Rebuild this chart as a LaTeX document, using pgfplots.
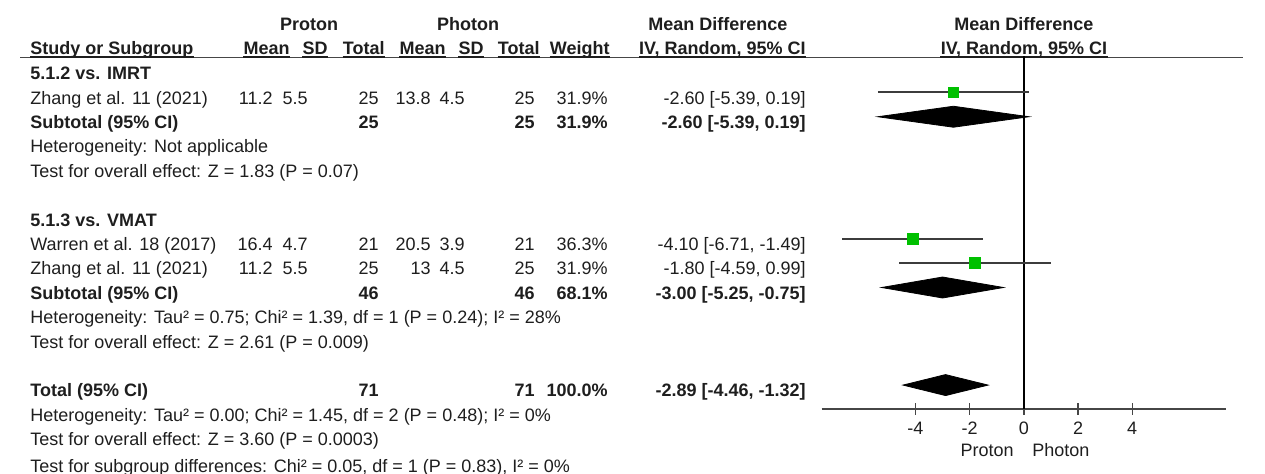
\documentclass[border=0pt]{standalone}
\usepackage{fontspec}
\setmainfont{Liberation Sans}
\usepackage{pgfplots}
\pgfplotsset{compat=1.18}

\definecolor{txt}{RGB}{30,30,30}
\definecolor{rule}{RGB}{70,70,70}
\definecolor{cigray}{RGB}{60,60,60}
\definecolor{sqgreen}{RGB}{0,192,0}

% one study row of the table: baseline, proton mean/SD/N, photon mean/SD/N, weight, MD [CI]
\newcommand\drow[9]{%
  \node[R] at (273,#1) {#2};
  \node[R] at (308,#1) {#3};
  \node[R] at (379,#1) {#4};
  \node[R] at (431,#1) {#5};
  \node[R] at (465,#1) {#6};
  \node[R] at (535,#1) {#7};
  \node[R] at (608,#1) {#8};
  \node[R] at (806,#1) {#9};
}
% underlined column heading
\newcommand\hdr[3]{%
  \node[#1,B] (h) at (#2,54.5) {#3};
  \draw[txt, line width=0.7pt] ([yshift=-1.2pt]h.base west) -- ([yshift=-1.2pt]h.base east);
}

\begin{document}
\begin{tikzpicture}[font=\fontsize{9}{11}\selectfont, text=txt,
  L/.style={anchor=base west, inner sep=0pt},
  R/.style={anchor=base east, inner sep=0pt},
  C/.style={anchor=base, inner sep=0pt},
  B/.style={font=\fontsize{9}{11}\selectfont\bfseries}]

\begin{scope}[x=0.5pt, y=-0.5pt]
\path[use as bounding box] (0,0) rectangle (1265,474);

% group headings
\node[C,B] at (309,31) {Proton};
\node[C,B] at (468,31) {Photon};
\node[C,B] at (718,31) {Mean Difference};
\node[C,B] at (1024,31) {Mean Difference};

% column headings
\draw[rule, line width=0.6pt] (20,57.5) -- (1243,57.5);
\hdr{L}{30}{Study or Subgroup}
\hdr{R}{290}{Mean}
\hdr{R}{328}{SD}
\hdr{R}{385}{Total}
\hdr{R}{446}{Mean}
\hdr{R}{484}{SD}
\hdr{R}{540}{Total}
\hdr{R}{610}{Weight}
\hdr{R}{806}{IV, Random, 95\% CI}
\hdr{C}{1024}{IV, Random, 95\% CI}

% subgroup 5.1.2
\node[L,B] at (30,79.8) {5.1.2 vs. IMRT};
\node[L] at (30,104.2) {Zhang et al. 11 (2021)};
\drow{104.2}{11.2}{5.5}{25}{13.8}{4.5}{25}{31.9\%}{-2.60 [-5.39, 0.19]}
\begin{scope}[B]
\node[L] at (30,128.6) {Subtotal (95\% CI)};
\node[R] at (379,128.6) {25};
\node[R] at (535,128.6) {25};
\node[R] at (608,128.6) {31.9\%};
\node[R] at (806,128.6) {-2.60 [-5.39, 0.19]};
\end{scope}
\node[L] at (30,153) {Heterogeneity: Not applicable};
\node[L] at (30,177.4) {Test for overall effect: Z = 1.83 (P = 0.07)};

% subgroup 5.1.3
\node[L,B] at (30,226.2) {5.1.3 vs. VMAT};
\node[L] at (30,250.6) {Warren et al. 18 (2017)};
\drow{250.6}{16.4}{4.7}{21}{20.5}{3.9}{21}{36.3\%}{-4.10 [-6.71, -1.49]}
\node[L] at (30,275) {Zhang et al. 11 (2021)};
\drow{275}{11.2}{5.5}{25}{13}{4.5}{25}{31.9\%}{-1.80 [-4.59, 0.99]}
\begin{scope}[B]
\node[L] at (30,299.4) {Subtotal (95\% CI)};
\node[R] at (379,299.4) {46};
\node[R] at (535,299.4) {46};
\node[R] at (608,299.4) {68.1\%};
\node[R] at (806,299.4) {-3.00 [-5.25, -0.75]};
\end{scope}
\node[L] at (30,323.8) {Heterogeneity: Tau² = 0.75; Chi² = 1.39, df = 1 (P = 0.24); I² = 28\%};
\node[L] at (30,348.2) {Test for overall effect: Z = 2.61 (P = 0.009)};

% overall
\begin{scope}[B]
\node[L] at (30,397) {Total (95\% CI)};
\node[R] at (379,397) {71};
\node[R] at (535,397) {71};
\node[R] at (608,397) {100.0\%};
\node[R] at (806,397) {-2.89 [-4.46, -1.32]};
\end{scope}
\node[L] at (30,421.4) {Heterogeneity: Tau² = 0.00; Chi² = 1.45, df = 2 (P = 0.48); I² = 0\%};
\node[L] at (30,445.8) {Test for overall effect: Z = 3.60 (P = 0.0003)};
\node[L] at (30,472.5) {Test for subgroup differences: Chi² = 0.05, df = 1 (P = 0.83), I² = 0\%};

% favours labels under the scale
\node[R] at (1014,456.4) {Proton};
\node[L] at (1032,456.4) {Photon};
\end{scope}

% forest plot: y is the table row counted from the Total row (=1)
\begin{axis}[
  at={(410.85pt,-204.5pt)}, anchor=south west,
  scale only axis, width=202.15pt, height=176.5pt,
  xmin=-7.46, xmax=7.46, ymin=0.02, ymax=14.49,
  axis x line*=bottom, axis y line=none,
  x axis line style={draw=rule, line width=0.7pt},
  xtick={-4,-2,0,2,4},
  tick align=center, major tick length=6pt,
  tick style={draw=rule, line width=0.7pt},
  xticklabel style={font=\fontsize{9}{11}\selectfont, text=txt},
  /pgf/number format/assume math mode=true,
  clip=false,
]
\draw[black, line width=0.9pt] (axis cs:0,0.02) -- (axis cs:0,14.49);

% confidence intervals
\addplot[cigray, line width=0.9pt] coordinates {(-5.39,13) (0.19,13)};
\addplot[cigray, line width=0.9pt] coordinates {(-6.71,7) (-1.49,7)};
\addplot[cigray, line width=0.9pt] coordinates {(-4.59,6) (0.99,6)};

% study estimates, square size by weight
\addplot[only marks, mark=square*, mark size=2.68pt, mark options={fill=sqgreen, draw=sqgreen}] coordinates {(-2.60,13)};
\addplot[only marks, mark=square*, mark size=2.90pt, mark options={fill=sqgreen, draw=sqgreen}] coordinates {(-4.10,7)};
\addplot[only marks, mark=square*, mark size=2.68pt, mark options={fill=sqgreen, draw=sqgreen}] coordinates {(-1.80,6)};

% pooled estimates
\addplot[fill=black, draw=black] coordinates {(-5.39,12) (-2.60,12.43) (0.19,12) (-2.60,11.57)} -- cycle;
\addplot[fill=black, draw=black] coordinates {(-5.25,5) (-3.00,5.43) (-0.75,5) (-3.00,4.57)} -- cycle;
\addplot[fill=black, draw=black] coordinates {(-4.46,1) (-2.89,1.43) (-1.32,1) (-2.89,0.57)} -- cycle;
\end{axis}
\end{tikzpicture}
\end{document}
